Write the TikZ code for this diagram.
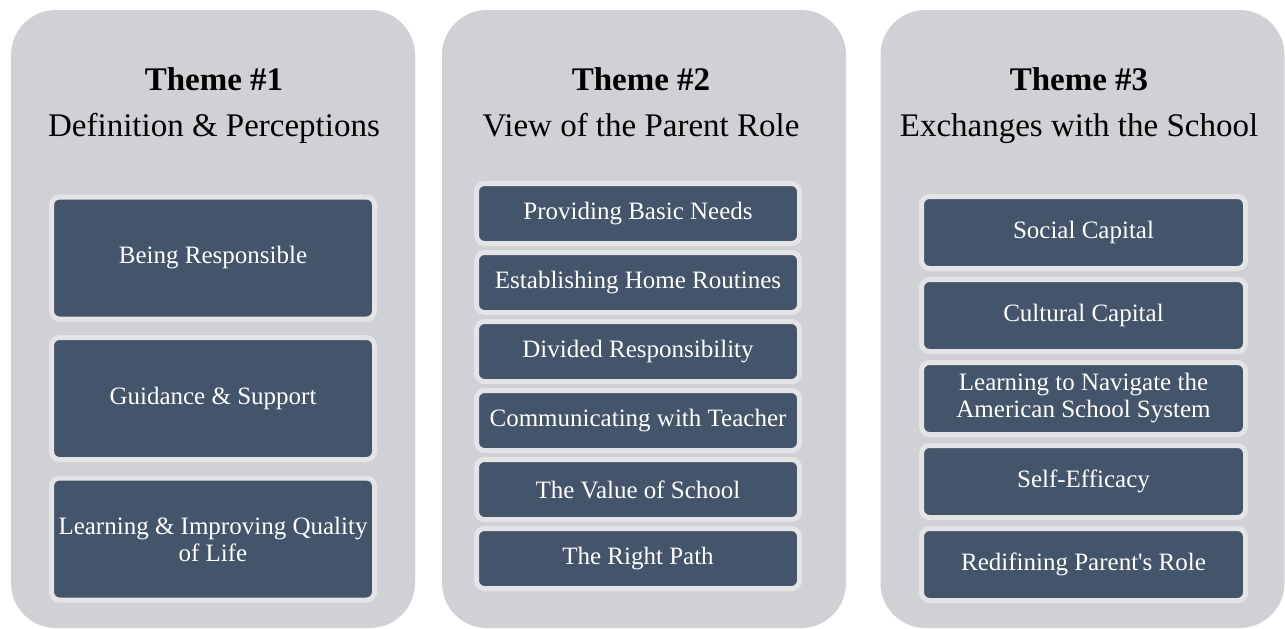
\documentclass[tikz,border=0pt]{standalone}
\usepackage{fontspec}
\setmainfont{Liberation Serif}

\definecolor{panelgrey}{HTML}{D0D1D5}
\definecolor{rimgrey}{HTML}{E4E4E6}
\definecolor{slate}{HTML}{44546A}

\tikzset{
  panel/.style={fill=panelgrey, rounded corners=45pt, inner sep=0pt,
    minimum width=404pt, minimum height=618pt},
  theme/.style={anchor=base, font=\fontsize{33}{38}\selectfont\bfseries},
  topic/.style={anchor=base, font=\fontsize{33}{38}\selectfont},
  item/.style={fill=slate, draw=rimgrey, line width=5pt, rounded corners=8pt,
    text=white, align=center, inner sep=0pt,
    font=\fontsize{25}{27}\selectfont},
}

\begin{document}
\begin{tikzpicture}[x=1pt, y=-1pt]
        \useasboundingbox (0,0) rectangle (1285,629);

        % the three grey panels
        \node[panel] (p1) at (213,319) {};
        \node[panel] (p2) at (644,319) {};
        \node[panel] (p3) at (1082.5,319) {};

        % headings
        \node[theme] (h1) at (214,90) {Theme \#1};
        \node[topic] (s1) at (214,136) {Definition \& Perceptions};
        \node[theme] (h2) at (641,90) {Theme \#2};
        \node[topic] (s2) at (641,136) {View of the Parent Role};
        \node[theme] (h3) at (1079,90) {Theme \#3};
        \node[topic] (s3) at (1079,136) {Exchanges with the School};

        % theme 1
        \foreach \txt [count=\i] in {Being Responsible, Guidance \& Support,
            {Learning \& Improving Quality\\of Life}}
          \node[item, minimum width=323pt, minimum height=122pt]
            (a\i) at (213,{258+(\i-1)*140.5}) {\txt};

        % theme 2
        \foreach \txt [count=\i] in {Providing Basic Needs, Establishing Home Routines,
            Divided Responsibility, Communicating with Teacher,
            The Value of School, The Right Path}
          \node[item, minimum width=323pt, minimum height=60pt]
            (b\i) at (638,{213.5+(\i-1)*69}) {\txt};

        % theme 3
        \foreach \txt [count=\i] in {Social Capital, Cultural Capital,
            {Learning to Navigate the\\American School System},
            Self-Efficacy, Redifining Parent\textquotesingle s Role}
          \node[item, minimum width=324pt, minimum height=72pt]
            (c\i) at (1083.5,{232.5+(\i-1)*83}) {\txt};
\end{tikzpicture}
\end{document}
